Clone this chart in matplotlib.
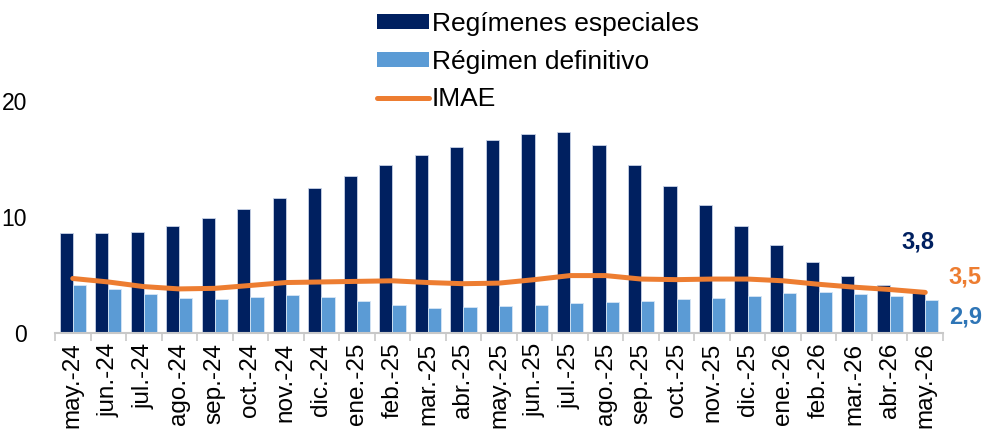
import numpy as np
import matplotlib
matplotlib.use("Agg")
import matplotlib.pyplot as plt
from matplotlib.lines import Line2D
from matplotlib.patches import Patch

plt.rcParams["font.family"] = ["Liberation Sans", "DejaVu Sans"]

months = ["may.-24", "jun.-24", "jul.-24", "ago.-24", "sep.-24", "oct.-24", "nov.-24", "dic.-24",
          "ene.-25", "feb.-25", "mar.-25", "abr.-25", "may.-25", "jun.-25", "jul.-25", "ago.-25",
          "sep.-25", "oct.-25", "nov.-25", "dic.-25", "ene.-26", "feb.-26", "mar.-26", "abr.-26",
          "may.-26"]
especiales = [8.6, 8.6, 8.7, 9.2, 9.9, 10.7, 11.6, 12.5, 13.5, 14.5, 15.35, 16.05, 16.6,
              17.15, 17.3, 16.2, 14.45, 12.7, 11.0, 9.2, 7.6, 6.1, 4.95, 4.15, 3.6]
definitivo = [4.1, 3.8, 3.35, 3.0, 2.9, 3.1, 3.3, 3.1, 2.75, 2.4, 2.15, 2.2, 2.35,
              2.4, 2.55, 2.7, 2.8, 2.95, 3.0, 3.15, 3.45, 3.55, 3.4, 3.15, 2.85]
imae = [4.7, 4.4, 4.0, 3.8, 3.85, 4.1, 4.35, 4.4, 4.45, 4.5, 4.35, 4.25, 4.3,
        4.6, 4.95, 4.95, 4.65, 4.6, 4.65, 4.65, 4.5, 4.2, 3.95, 3.75, 3.5]
end_labels = ["3,8", "3,5", "2,9"]

navy = "#002060"
light = "#5B9BD5"
orange = "#ED7D31"

fig = plt.figure(figsize=(9.85, 4.34), dpi=100)
ax = fig.add_axes([55 / 985, 1 - 333 / 434, 888 / 985, 232 / 434])

x = np.arange(len(months))
w = 0.37
ax.bar(x - w / 2, especiales, w, color=navy, edgecolor="#C9D3E6", linewidth=0.6, zorder=2)
ax.bar(x + w / 2, definitivo, w, color=light, edgecolor="#D6E6F5", linewidth=0.6, zorder=2)
ax.plot(x, imae, color=orange, linewidth=3.6, solid_capstyle="round",
        solid_joinstyle="round", zorder=3)

ax.set_xlim(-0.5, len(months) - 0.5)
ax.set_ylim(0, 20)
ax.set_yticks([0, 10, 20])
ax.tick_params(axis="y", length=0, pad=20, labelsize=16.5)
ax.set_xticks(x)
ax.set_xticklabels(months, rotation=90, fontsize=17.5)
ax.tick_params(axis="x", length=0, pad=7)
ax.set_xticks(np.arange(len(months) + 1) - 0.5, minor=True)
ax.tick_params(axis="x", which="minor", length=6, width=1.2, color="#C8C8C8")

for s in ["top", "right", "left"]:
    ax.spines[s].set_visible(False)
ax.spines["bottom"].set_color("#C8C8C8")
ax.spines["bottom"].set_linewidth(1.5)

# last-value labels
fig.text(918 / 985, 1 - 242 / 434, end_labels[0], color=navy, fontsize=17, fontweight="bold",
         ha="center", va="center")
fig.text(965 / 985, 1 - 277 / 434, end_labels[1], color=orange, fontsize=17, fontweight="bold",
         ha="center", va="center")
fig.text(966 / 985, 1 - 317 / 434, end_labels[2], color="#2E75B6", fontsize=17, fontweight="bold",
         ha="center", va="center")

handles = [Patch(facecolor=navy), Patch(facecolor=light),
           Line2D([0], [0], color=orange, linewidth=3.6, solid_capstyle="round")]
fig.legend(handles, ["Regímenes especiales", "Régimen definitivo", "IMAE"],
           loc="upper left", bbox_to_anchor=(366 / 985, 0.997), frameon=False,
           fontsize=19, handlelength=2.0, handleheight=0.5, handletextpad=0.1,
           labelspacing=0.52, borderaxespad=0)

fig.savefig("out.png", dpi=100)
